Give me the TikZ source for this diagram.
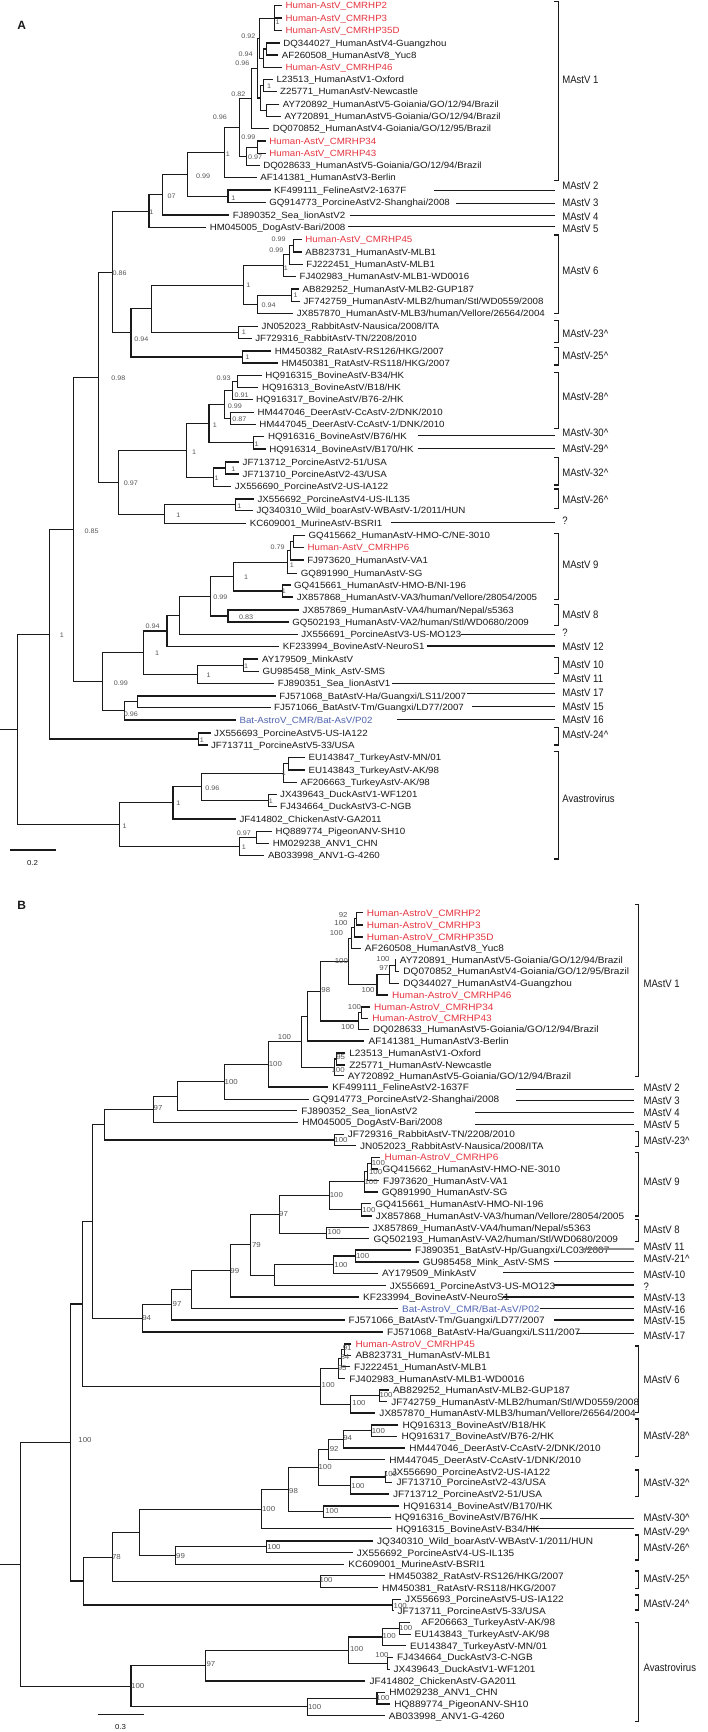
\documentclass[tikz,border=0pt]{standalone}
\usepackage{fontspec}
\setmainfont{Liberation Sans}
\newfontfamily\cladefont[FakeStretch=0.885]{Liberation Sans}
\newfontfamily\leaffont[FakeStretch=1.08]{Liberation Sans}
\newfontfamily\supfont[FakeStretch=1.09]{Liberation Sans}
\usetikzlibrary{calc}
\definecolor{hred}{HTML}{E63540}
\definecolor{bblue}{HTML}{4F63B0}
\definecolor{ink}{HTML}{1A1A1A}
\definecolor{sgray}{HTML}{555555}
\newcommand\LA[5]{\node[lfA,text=#4] (#1) at (#2,#3) {#5}; \coordinate (t#1) at ([xshift=-3.4pt]#1.west);}
\newcommand\LB[5]{\node[lfB,text=#4] (#1) at (#2,#3) {#5}; \coordinate (t#1) at ([xshift=-4pt]#1.west);}
\newcommand\BN[3]{\draw[tree] (#2) -- (#1 |- #2) -- (#1 |- #3) -- (#3);}
\begin{document}
\begin{tikzpicture}[x=1.3546pt,y=-1pt,
  lfA/.style={anchor=west,inner sep=0pt,text height=6.4pt,text depth=0pt,font=\leaffont\fontsize{9}{10}\selectfont},
  lfB/.style={anchor=west,inner sep=0pt,text height=6.6pt,text depth=0pt,font=\leaffont\fontsize{9.3}{10}\selectfont},
  supA/.style={inner sep=0pt,text=sgray,text height=4.7pt,text depth=0pt,font=\supfont\fontsize{6.6}{7}\selectfont},
  supB/.style={inner sep=0pt,text=sgray,text height=5.1pt,text depth=0pt,font=\supfont\fontsize{7.2}{8}\selectfont},
  cladelab/.style={anchor=west,inner sep=0pt,text=ink,text height=7.7pt,text depth=0pt,font=\cladefont\fontsize{10.8}{11}\selectfont},
  tree/.style={line width=1.05pt,draw=ink},
  brk/.style={line width=1.05pt,draw=ink},
  panel/.style={inner sep=0pt,text=ink,font=\fontsize{12}{12}\selectfont\bfseries}]
\useasboundingbox (0,0) rectangle (522.66,1732);
\fill[white] (0,0) rectangle (522.66,1732);

\node[panel] (labA) at (16,25) {A};
\node[panel] (labB) at (16,905) {B};

% ================= PANEL A leaves =================
\LA{a01}{210.7}{5.7}{hred}{Human-AstV\_CMRHP2}
\LA{a02}{210.7}{18}{hred}{Human-AstV\_CMRHP3}
\LA{a03}{210.7}{30.7}{hred}{Human-AstV\_CMRHP35D}
\LA{a04}{209}{43}{ink}{DQ344027\_HumanAstV4-Guangzhou}
\LA{a05}{208}{55}{ink}{AF260508\_HumanAstV8\_Yuc8}
\LA{a06}{210.7}{67.3}{hred}{Human-AstV\_CMRHP46}
\LA{a07}{204}{79.7}{ink}{L23513\_HumanAstV1-Oxford}
\LA{a08}{206.7}{91.7}{ink}{Z25771\_HumanAstV-Newcastle}
\LA{a09}{208.7}{104.3}{ink}{AY720892\_HumanAstV5-Goiania/GO/12/94/Brazil}
\LA{a10}{210}{116.3}{ink}{AY720891\_HumanAstV5-Goiania/GO/12/94/Brazil}
\LA{a11}{201.3}{128.7}{ink}{DQ070852\_HumanAstV4-Goiania/GO/12/95/Brazil}
\LA{a12}{198.7}{141}{hred}{Human-AstV\_CMRHP34}
\LA{a13}{198.7}{153.3}{hred}{Human-AstV\_CMRHP43}
\LA{a14}{194.3}{165.3}{ink}{DQ028633\_HumanAstV5-Goiania/GO/12/94/Brazil}
\LA{a15}{192}{177.3}{ink}{AF141381\_HumanAstV3-Berlin}
\LA{a16}{202.3}{190}{ink}{KF499111\_FelineAstV2-1637F}
\LA{a17}{198.7}{202.7}{ink}{GQ914773\_PorcineAstV2-Shanghai/2008}
\LA{a18}{171.7}{215}{ink}{FJ890352\_Sea\_lionAstV2}
\LA{a19}{154.7}{227.7}{ink}{HM045005\_DogAstV-Bari/2008}
\LA{a20}{225.3}{239.3}{hred}{Human-AstV\_CMRHP45}
\LA{a21}{225.3}{252}{ink}{AB823731\_HumanAstV-MLB1}
\LA{a22}{226}{264.3}{ink}{FJ222451\_HumanAstV-MLB1}
\LA{a23}{221}{276.3}{ink}{FJ402983\_HumanAstV-MLB1-WD0016}
\LA{a24}{223.3}{289}{ink}{AB829252\_HumanAstV-MLB2-GUP187}
\LA{a25}{224}{301.7}{ink}{JF742759\_HumanAstV-MLB2/human/Stl/WD0559/2008}
\LA{a26}{219}{313.7}{ink}{JX857870\_HumanAstV-MLB3/human/Vellore/26564/2004}
\LA{a27}{193}{326.3}{ink}{JN052023\_RabbitAstV-Nausica/2008/ITA}
\LA{a28}{188.3}{338.7}{ink}{JF729316\_RabbitAstV-TN/2208/2010}
\LA{a29}{202.7}{351}{ink}{HM450382\_RatAstV-RS126/HKG/2007}
\LA{a30}{207.7}{363}{ink}{HM450381\_RatAstV-RS118/HKG/2007}
\LA{a31}{195.7}{375.7}{ink}{HQ916315\_BovineAstV-B34/HK}
\LA{a32}{193.3}{387.7}{ink}{HQ916313\_BovineAstV/B18/HK}
\LA{a33}{189}{399.7}{ink}{HQ916317\_BovineAstV/B76-2/HK}
\LA{a34}{190}{412.3}{ink}{HM447046\_DeerAstV-CcAstV-2/DNK/2010}
\LA{a35}{191.3}{424.3}{ink}{HM447045\_DeerAstV-CcAstV-1/DNK/2010}
\LA{a36}{197.7}{436.7}{ink}{HQ916316\_BovineAstV/B76/HK}
\LA{a37}{198.7}{449}{ink}{HQ916314\_BovineAstV/B170/HK}
\LA{a38}{179}{462}{ink}{JF713712\_PorcineAstV2-51/USA}
\LA{a39}{179}{474}{ink}{JF713710\_PorcineAstV2-43/USA}
\LA{a40}{173.3}{486.3}{ink}{JX556690\_PorcineAstV2-US-IA122}
\LA{a41}{190}{499}{ink}{JX556692\_PorcineAstV4-US-IL135}
\LA{a42}{189.3}{510.7}{ink}{JQ340310\_Wild\_boarAstV-WBAstV-1/2011/HUN}
\LA{a43}{184.3}{523.3}{ink}{KC609001\_MurineAstV-BSRI1}
\LA{a44}{227.7}{535.7}{ink}{GQ415662\_HumanAstV-HMO-C/NE-3010}
\LA{a45}{227}{547.7}{hred}{Human-AstV\_CMRHP6}
\LA{a46}{226.7}{560}{ink}{FJ973620\_HumanAstV-VA1}
\LA{a47}{222}{573.3}{ink}{GQ891990\_HumanAstV-SG}
\LA{a48}{217}{585}{ink}{GQ415661\_HumanAstV-HMO-B/NI-196}
\LA{a49}{219}{597}{ink}{JX857868\_HumanAstV-VA3/human/Vellore/28054/2005}
\LA{a50}{223.3}{610}{ink}{JX857869\_HumanAstV-VA4/human/Nepal/s5363}
\LA{a51}{215.7}{622}{ink}{GQ502193\_HumanAstV-VA2/human/Stl/WD0680/2009}
\LA{a52}{222.3}{634.3}{ink}{JX556691\_PorcineAstV3-US-MO123}
\LA{a53}{208.7}{646.7}{ink}{KF233994\_BovineAstV-NeuroS1}
\LA{a54}{193.3}{659}{ink}{AY179509\_MinkAstV}
\LA{a55}{193.7}{671.3}{ink}{GU985458\_Mink\_AstV-SMS}
\LA{a56}{205}{683.3}{ink}{FJ890351\_Sea\_lionAstV1}
\LA{a57}{206}{696}{ink}{FJ571068\_BatAstV-Ha/Guangxi/LS11/2007}
\LA{a58}{202.3}{707.3}{ink}{FJ571066\_BatAstV-Tm/Guangxi/LD77/2007}
\LA{a59}{176.7}{720}{bblue}{Bat-AstroV\_CMR/Bat-AsV/P02}
\LA{a60}{158}{733}{ink}{JX556693\_PorcineAstV5-US-IA122}
\LA{a61}{155.7}{745}{ink}{JF713711\_PorcineAstV5-33/USA}
\LA{a62}{227.7}{757.7}{ink}{EU143847\_TurkeyAstV-MN/01}
\LA{a63}{227.7}{770}{ink}{EU143843\_TurkeyAstV-AK/98}
\LA{a64}{221.7}{782.3}{ink}{AF206663\_TurkeyAstV-AK/98}
\LA{a65}{206.7}{794.7}{ink}{JX439643\_DuckAstV1-WF1201}
\LA{a66}{206.7}{806.7}{ink}{FJ434664\_DuckAstV3-C-NGB}
\LA{a67}{176.7}{819}{ink}{JF414802\_ChickenAstV-GA2011}
\LA{a68}{203.3}{831.7}{ink}{HQ889774\_PigeonANV-SH10}
\LA{a69}{201.3}{843.3}{ink}{HM029238\_ANV1\_CHN}
\LA{a70}{197.7}{855.7}{ink}{AB033998\_ANV1-G-4260}

% ================= PANEL A internal nodes =================
\coordinate (aiP1) at (202.7,18.2);
\coordinate (aiPdq) at (197,49);
\coordinate (aiP3) at (194.3,58.15);
\coordinate (aiP2) at (191.7,38.2);
\coordinate (aiLZ) at (194.3,85.7);
\coordinate (aiAY) at (196.7,110.3);
\coordinate (aiP5) at (192.3,98);
\coordinate (aiP4) at (190.3,68.1);
\coordinate (aiQ) at (185.7,98.4);
\coordinate (aiS1) at (190,147.15);
\coordinate (aiS) at (181.7,156.2);
\coordinate (aiR) at (176.7,127.3);
\coordinate (aiT) at (165.7,152.3);
\coordinate (aiFP) at (168.3,196.35);
\coordinate (aiU) at (138.3,174.3);
\coordinate (aiV) at (120,194.65);
\coordinate (aiW) at (110,211.2);
\coordinate (aiM1a) at (216.7,245.65);
\coordinate (aiM1b) at (214,254.97);
\coordinate (aiM1) at (209.3,265.6);
\coordinate (aiM2p) at (215,295.35);
\coordinate (aiM2) at (190,304.5);
\coordinate (aiMLB) at (180,285.05);
\coordinate (aiRAB) at (176,332.5);
\coordinate (aiZ) at (111.7,308.8);
\coordinate (aiRAT) at (179,357);
\coordinate (aiY) at (96.7,332.9);
\coordinate (aiX) at (82.7,272.05);
\coordinate (aiBOVa) at (175,381.7);
\coordinate (aiBOVb) at (171.7,390.7);
\coordinate (aiDEER) at (170,418.3);
\coordinate (aiFF) at (165.7,404.5);
\coordinate (aiGG) at (187.3,442.85);
\coordinate (aiEE) at (154.3,423.7);
\coordinate (aiPOa) at (166.7,468);
\coordinate (aiPO) at (157.3,477.15);
\coordinate (aiCC) at (137.7,450.4);
\coordinate (aiBOAR) at (174,504.85);
\coordinate (aiDD) at (121.7,514.1);
\coordinate (aiBB) at (87.3,482.25);
\coordinate (aiAA) at (72.7,377.15);
\coordinate (aiRR1) at (216.7,541.7);
\coordinate (aiRR2) at (214.3,550.85);
\coordinate (aiRR) at (212.3,562.1);
\coordinate (aiSS) at (208.3,591);
\coordinate (aiPP) at (172.3,576.55);
\coordinate (aiQQ) at (168.3,616);
\coordinate (aiOO) at (155.7,596.3);
\coordinate (aiNN) at (132.7,615.3);
\coordinate (aiLL) at (123.3,631);
\coordinate (aiMINK) at (180,665.15);
\coordinate (aiMM) at (145.7,674.2);
\coordinate (aiJJ) at (106,652.6);
\coordinate (aiBAT) at (101.7,701.65);
\coordinate (aiKK) at (91.7,710.8);
\coordinate (aiII) at (76,681.7);
\coordinate (aiHH) at (54,529.4);
\coordinate (aiPO5) at (146.7,739);
\coordinate (aiMAM) at (36.7,634.2);
\coordinate (aiTUa) at (213.3,763.85);
\coordinate (aiTU) at (209.3,773.1);
\coordinate (aiDU) at (198.3,800.7);
\coordinate (aiAV2) at (149,786.9);
\coordinate (aiAV1) at (127.7,802.95);
\coordinate (aiANa) at (189.3,837.5);
\coordinate (aiAN) at (176.7,846.6);
\coordinate (aiAV) at (88,824.8);
\coordinate (aiROOT) at (12.7,729.5);
\coordinate (aiStem) at (0,729.5);

\draw[tree] (ta01) -- (aiP1 |- ta01) -- (aiP1 |- ta03) -- (ta03);
\draw[tree] (aiP1 |- ta02) -- (ta02);
\BN{aiPdq}{ta04}{ta05}
\BN{aiP3}{aiPdq}{ta06}
\BN{aiP2}{aiP1}{aiP3}
\BN{aiLZ}{ta07}{ta08}
\BN{aiAY}{ta09}{ta10}
\BN{aiP5}{aiLZ}{aiAY}
\BN{aiP4}{aiP2}{aiP5}
\BN{aiQ}{aiP4}{ta11}
\BN{aiS1}{ta12}{ta13}
\BN{aiS}{aiS1}{ta14}
\BN{aiR}{aiQ}{aiS}
\BN{aiT}{aiR}{ta15}
\BN{aiFP}{ta16}{ta17}
\BN{aiU}{aiT}{aiFP}
\BN{aiV}{aiU}{ta18}
\BN{aiW}{aiV}{ta19}
\BN{aiM1a}{ta20}{ta21}
\BN{aiM1b}{aiM1a}{ta22}
\BN{aiM1}{aiM1b}{ta23}
\BN{aiM2p}{ta24}{ta25}
\BN{aiM2}{aiM2p}{ta26}
\BN{aiMLB}{aiM1}{aiM2}
\BN{aiRAB}{ta27}{ta28}
\BN{aiZ}{aiMLB}{aiRAB}
\BN{aiRAT}{ta29}{ta30}
\BN{aiY}{aiZ}{aiRAT}
\BN{aiX}{aiW}{aiY}
\BN{aiBOVa}{ta31}{ta32}
\BN{aiBOVb}{aiBOVa}{ta33}
\BN{aiDEER}{ta34}{ta35}
\BN{aiFF}{aiBOVb}{aiDEER}
\BN{aiGG}{ta36}{ta37}
\BN{aiEE}{aiFF}{aiGG}
\BN{aiPOa}{ta38}{ta39}
\BN{aiPO}{aiPOa}{ta40}
\BN{aiCC}{aiEE}{aiPO}
\BN{aiBOAR}{ta41}{ta42}
\BN{aiDD}{aiBOAR}{ta43}
\BN{aiBB}{aiCC}{aiDD}
\BN{aiAA}{aiX}{aiBB}
\BN{aiRR1}{ta44}{ta45}
\BN{aiRR2}{aiRR1}{ta46}
\BN{aiRR}{aiRR2}{ta47}
\BN{aiSS}{ta48}{ta49}
\BN{aiPP}{aiRR}{aiSS}
\BN{aiQQ}{ta50}{ta51}
\BN{aiOO}{aiPP}{aiQQ}
\BN{aiNN}{aiOO}{ta52}
\BN{aiLL}{aiNN}{ta53}
\BN{aiMINK}{ta54}{ta55}
\BN{aiMM}{aiMINK}{ta56}
\BN{aiJJ}{aiLL}{aiMM}
\BN{aiBAT}{ta57}{ta58}
\BN{aiKK}{aiBAT}{ta59}
\BN{aiII}{aiJJ}{aiKK}
\BN{aiHH}{aiAA}{aiII}
\BN{aiPO5}{ta60}{ta61}
\BN{aiMAM}{aiHH}{aiPO5}
\BN{aiTUa}{ta62}{ta63}
\BN{aiTU}{aiTUa}{ta64}
\BN{aiDU}{ta65}{ta66}
\BN{aiAV2}{aiTU}{aiDU}
\BN{aiAV1}{aiAV2}{ta67}
\BN{aiANa}{ta68}{ta69}
\BN{aiAN}{aiANa}{ta70}
\BN{aiAV}{aiAV1}{aiAN}
\BN{aiROOT}{aiMAM}{aiAV}
\draw[tree] (aiStem) -- (aiROOT);

% support values A
\foreach \x/\y/\lbl [count=\i] in {205/21.7/1, 183.3/36/0.92, 181.3/54.3/0.94, 179/63.3/0.96, 198.6/86/1, 176/94/0.82, 162.3/117.3/0.96, 183.3/137.3/0.99, 168.3/154/1, 188.3/157.3/0.97, 150/176/0.99, 126.7/195.7/07, 172.3/197.7/1, 111.7/211.7/1, 205.7/239.3/0.99, 204/250/0.99, 211/267.7/1, 88.3/273.3/0.86, 183.3/285/1, 218.3/295/1, 198.3/305/0.94, 180/332.3/1, 104.3/338.7/0.94, 182.7/357.3/1, 87.3/378.3/0.98, 165/377.7/0.93, 178.3/395/0.91, 173.3/405.7/0.99, 176.7/419.3/0.87, 158.7/425.5/1, 189.5/444/1, 143.3/451.7/1, 172.3/469/1, 160/477.7/1, 96.7/483.3/0.97, 176.7/506/1, 131.7/515/1, 67.7/531/0.85, 205/546.7/0.79, 215.5/565/1, 181.7/577.3/1, 209.5/590.7/1, 162.7/596.7/0.99, 181.7/616.7/0.83, 112.7/626/0.94, 45.7/635.3/1, 116/653.3/1, 181.7/666/1, 154/675/1, 89.3/682.7/0.99, 96.7/714.3/0.96, 149/740/1, 209.6/772.7/1, 156.7/787.7/0.96, 200/801/1, 131.7/803.3/1, 92/826/1, 180/832.7/0.97, 180/847.3/1}
  \node[supA] (sa\i) at (\x,\y) {\lbl};

% clade brackets A
\foreach \a/\b in {1.5/180.7, 235/313.3, 320.7/342.7, 347.3/365, 372.3/428.3, 457.7/485, 489/508.3, 533.3/599.3, 604.3/625.7, 657.3/673.3, 727.7/745, 751.7/859}
  \draw[brk] (409.3,\a) -- (412.3,\a) -- (412.3,\b) -- (409.3,\b);
\foreach \x/\y in {320.7/190.7, 336.7/203.3, 258.3/215.7, 256.7/226.3, 308.3/435.7, 308.3/448.3, 288.3/522.3, 340/634.3, 315/646, 289.3/683.3, 345/693.3, 348.3/706.7, 293.3/719.3}
  \draw[brk] (\x,\y) -- (410,\y);
\foreach \y/\lbl [count=\i] in {80/MAstV 1, 185.7/MAstV 2, 202.7/MAstV 3, 216.7/MAstV 4, 228.3/MAstV 5, 271/MAstV 6, 333.3/MAstV-23\textasciicircum, 356/MAstV-25\textasciicircum, 396.7/MAstV-28\textasciicircum, 432.7/MAstV-30\textasciicircum, 448.3/MAstV-29\textasciicircum, 472.3/MAstV-32\textasciicircum, 500/MAstV-26\textasciicircum, 521/?, 565/MAstV 9, 614.3/MAstV 8, 632.7/?, 646.7/MAstV 12, 664.3/MAstV 10, 678.3/MAstV 11, 692.7/MAstV 17, 706.7/MAstV 15, 720/MAstV 16, 735/MAstV-24\textasciicircum, 798.3/Avastrovirus}
  \node[cladelab] (ca\i) at (415,\y) {\lbl};

% scale bar A
\coordinate (sbA1) at (7.3,850); \coordinate (sbA2) at (41,850);
\draw[tree] (sbA1) -- (sbA2);
\node[supB,text=ink] (sbAl) at (24,862.7) {0.2};

% ================= PANEL B leaves =================
\LB{b01}{270.7}{912.7}{hred}{Human-AstroV\_CMRHP2}
\LB{b02}{270.7}{925}{hred}{Human-AstroV\_CMRHP3}
\LB{b03}{270.7}{937}{hred}{Human-AstroV\_CMRHP35D}
\LB{b04}{269.3}{948.3}{ink}{AF260508\_HumanAstV8\_Yuc8}
\LB{b05}{295}{960}{ink}{AY720891\_HumanAstV5-Goiania/GO/12/94/Brazil}
\LB{b06}{297.7}{971.3}{ink}{DQ070852\_HumanAstV4-Goiania/GO/12/95/Brazil}
\LB{b07}{297.7}{983.3}{ink}{DQ344027\_HumanAstV4-Guangzhou}
\LB{b08}{289.3}{995}{hred}{Human-AstroV\_CMRHP46}
\LB{b09}{276}{1007}{hred}{Human-AstroV\_CMRHP34}
\LB{b10}{274.7}{1018.3}{hred}{Human-AstroV\_CMRHP43}
\LB{b11}{275.3}{1029.3}{ink}{DQ028633\_HumanAstV5-Goiania/GO/12/94/Brazil}
\LB{b12}{272}{1041}{ink}{AF141381\_HumanAstV3-Berlin}
\LB{b13}{257.7}{1053}{ink}{L23513\_HumanAstV1-Oxford}
\LB{b14}{257.7}{1065}{ink}{Z25771\_HumanAstV-Newcastle}
\LB{b15}{256.7}{1075.7}{ink}{AY720892\_HumanAstV5-Goiania/GO/12/94/Brazil}
\LB{b16}{245.3}{1087}{ink}{KF499111\_FelineAstV2-1637F}
\LB{b17}{230.7}{1099.3}{ink}{GQ914773\_PorcineAstV2-Shanghai/2008}
\LB{b18}{222.3}{1110.7}{ink}{FJ890352\_Sea\_lionAstV2}
\LB{b19}{223}{1122.3}{ink}{HM045005\_DogAstV-Bari/2008}
\LB{b20}{256.7}{1134.3}{ink}{JF729316\_RabbitAstV-TN/2208/2010}
\LB{b21}{265.7}{1145.7}{ink}{JN052023\_RabbitAstV-Nausica/2008/ITA}
\LB{b22}{283.7}{1157.3}{hred}{Human-AstroV\_CMRHP6}
\LB{b23}{282.3}{1169}{ink}{GQ415662\_HumanAstV-HMO-NE-3010}
\LB{b24}{282.7}{1180.7}{ink}{FJ973620\_HumanAstV-VA1}
\LB{b25}{281.7}{1192}{ink}{GQ891990\_HumanAstV-SG}
\LB{b26}{277}{1203.7}{ink}{GQ415661\_HumanAstV-HMO-NI-196}
\LB{b27}{277.3}{1216}{ink}{JX857868\_HumanAstV-VA3/human/Vellore/28054/2005}
\LB{b28}{275}{1227.7}{ink}{JX857869\_HumanAstV-VA4/human/Nepal/s5363}
\LB{b29}{275.7}{1238.7}{ink}{GQ502193\_HumanAstV-VA2/human/Stl/WD0680/2009}
\LB{b30}{306.3}{1250}{ink}{FJ890351\_BatAstV-Hp/Guangxi/LC03/2007}
\LB{b31}{312}{1262}{ink}{GU985458\_Mink\_AstV-SMS}
\LB{b32}{282}{1273.3}{ink}{AY179509\_MinkAstV}
\LB{b33}{287.7}{1285.7}{ink}{JX556691\_PorcineAstV3-US-MO123}
\LB{b34}{268}{1297}{ink}{KF233994\_BovineAstV-NeuroS1}
\LB{b35}{296.7}{1308.7}{bblue}{Bat-AstroV\_CMR/Bat-AsV/P02}
\LB{b36}{257.3}{1320}{ink}{FJ571066\_BatAstV-Tm/Guangxi/LD77/2007}
\LB{b37}{285.7}{1332}{ink}{FJ571068\_BatAstV-Ha/Guangxi/LS11/2007}
\LB{b38}{262.3}{1344}{hred}{Human-AstroV\_CMRHP45}
\LB{b39}{262.3}{1355.3}{ink}{AB823731\_HumanAstV-MLB1}
\LB{b40}{261.3}{1366.7}{ink}{FJ222451\_HumanAstV-MLB1}
\LB{b41}{257.7}{1378.7}{ink}{FJ402983\_HumanAstV-MLB1-WD0016}
\LB{b42}{290}{1390}{ink}{AB829252\_HumanAstV-MLB2-GUP187}
\LB{b43}{288.7}{1401.7}{ink}{JF742759\_HumanAstV-MLB2/human/Stl/WD0559/2008}
\LB{b44}{280}{1413}{ink}{JX857870\_HumanAstV-MLB3/human/Vellore/26564/2004}
\LB{b45}{297}{1425}{ink}{HQ916313\_BovineAstV/B18/HK}
\LB{b46}{296.3}{1436.3}{ink}{HQ916317\_BovineAstV/B76-2/HK}
\LB{b47}{302}{1448}{ink}{HM447046\_DeerAstV-CcAstV-2/DNK/2010}
\LB{b48}{287.3}{1459.7}{ink}{HM447045\_DeerAstV-CcAstV-1/DNK/2010}
\LB{b49}{289}{1471.7}{ink}{JX556690\_PorcineAstV2-US-IA122}
\LB{b50}{292.7}{1482.3}{ink}{JF713710\_PorcineAstV2-43/USA}
\LB{b51}{290}{1494}{ink}{JF713712\_PorcineAstV2-51/USA}
\LB{b52}{297.7}{1506}{ink}{HQ916314\_BovineAstV/B170/HK}
\LB{b53}{291.3}{1517.3}{ink}{HQ916316\_BovineAstV/B76/HK}
\LB{b54}{292.3}{1528.7}{ink}{HQ916315\_BovineAstV-B34/HK}
\LB{b55}{278.3}{1541}{ink}{JQ340310\_Wild\_boarAstV-WBAstV-1/2011/HUN}
\LB{b56}{263.3}{1552.7}{ink}{JX556692\_PorcineAstV4-US-IL135}
\LB{b57}{257}{1564.3}{ink}{KC609001\_MurineAstV-BSRI1}
\LB{b58}{287}{1575.7}{ink}{HM450382\_RatAstV-RS126/HKG/2007}
\LB{b59}{282}{1587.7}{ink}{HM450381\_RatAstV-RS118/HKG/2007}
\LB{b60}{299}{1599.3}{ink}{JX556693\_PorcineAstV5-US-IA122}
\LB{b61}{293.3}{1610.7}{ink}{JF713711\_PorcineAstV5-33/USA}
\LB{b62}{311}{1622.3}{ink}{AF206663\_TurkeyAstV-AK/98}
\LB{b63}{306}{1634.3}{ink}{EU143843\_TurkeyAstV-AK/98}
\LB{b64}{302.7}{1645.7}{ink}{EU143847\_TurkeyAstV-MN/01}
\LB{b65}{293}{1657.3}{ink}{FJ434664\_DuckAstV3-C-NGB}
\LB{b66}{290.5}{1669.3}{ink}{JX439643\_DuckAstV1-WF1201}
\LB{b67}{272.7}{1681}{ink}{JF414802\_ChickenAstV-GA2011}
\LB{b68}{287.3}{1692.3}{ink}{HM029238\_ANV1\_CHN}
\LB{b69}{291}{1704}{ink}{HQ889774\_PigeonANV-SH10}
\LB{b70}{287}{1715.7}{ink}{AB033998\_ANV1-G-4260}
\coordinate (tb62) at (303,1622.3);

% ================= PANEL B internal nodes =================
\coordinate (biB1) at (263.3,918.85);
\coordinate (biB2) at (261.7,927.9);
\coordinate (biB3) at (259.3,938.1);
\coordinate (biC1) at (291.7,965.65);
\coordinate (biC2) at (287.3,974.5);
\coordinate (biC3) at (278.3,984.75);
\coordinate (biC6) at (257.5,961.4);
\coordinate (biC4) at (266.7,1012.65);
\coordinate (biC5) at (265,1021);
\coordinate (biC7) at (236.7,991.2);
\coordinate (biC8) at (227.3,1016.1);
\coordinate (biLZ) at (248.3,1059);
\coordinate (biLZA) at (246.7,1067.35);
\coordinate (biC9) at (222.7,1041.7);
\coordinate (biC10) at (198.3,1064.35);
\coordinate (biC11) at (165.7,1081.8);
\coordinate (biC12) at (130.7,1096.25);
\coordinate (biC13) at (113.3,1109.3);
\coordinate (biRAB) at (246.7,1140);
\coordinate (biC14) at (77.3,1124.65);
\coordinate (biE5) at (274,1163.15);
\coordinate (biE4) at (271,1171.9);
\coordinate (biE2) at (269.3,1181.95);
\coordinate (biE3) at (266.7,1209.85);
\coordinate (biE1) at (243.3,1195.9);
\coordinate (biVA) at (241,1233.2);
\coordinate (biD7) at (206,1214.55);
\coordinate (biD10) at (262.3,1256);
\coordinate (biD9) at (246,1264.65);
\coordinate (biD8) at (202.7,1275.2);
\coordinate (biD6) at (185,1244.9);
\coordinate (biD5) at (170,1270.95);
\coordinate (biD4) at (141.7,1289.8);
\coordinate (biD3) at (126.7,1304.9);
\coordinate (biD2) at (105,1318.45);
\coordinate (biD1) at (68.3,1221.55);
\coordinate (biG1a) at (254,1349.65);
\coordinate (biG1b) at (252.3,1358.2);
\coordinate (biG1) at (250,1368.45);
\coordinate (biG2p) at (280,1395.85);
\coordinate (biG2) at (259,1404.4);
\coordinate (biMLB) at (236.7,1386.4);
\coordinate (biF1) at (61,1304);
\coordinate (biH11p) at (274,1430.65);
\coordinate (biH11) at (253.3,1439.3);
\coordinate (biH9) at (242.7,1449.5);
\coordinate (biH10p) at (284.3,1477);
\coordinate (biH10) at (259,1485.5);
\coordinate (biH7) at (235,1467.5);
\coordinate (biH8) at (239,1511.65);
\coordinate (biH6) at (212.7,1489.6);
\coordinate (biH4) at (193.3,1509.15);
\coordinate (biBOAR) at (196.7,1546.85);
\coordinate (biH5) at (129.3,1555.6);
\coordinate (biH3) at (103.3,1532.4);
\coordinate (biRAT) at (236.7,1581.7);
\coordinate (biH2) at (82.7,1557.05);
\coordinate (biP5) at (290,1605);
\coordinate (biH1) at (61.7,1581);
\coordinate (biF2) at (51.7,1442.5);
\coordinate (biI4) at (295,1628.3);
\coordinate (biI3) at (282.7,1637);
\coordinate (biDU) at (286,1663.3);
\coordinate (biI2) at (257.3,1650.15);
\coordinate (biI1) at (151.7,1665.6);
\coordinate (biJ1p) at (278.3,1698.15);
\coordinate (biJ1) at (226.7,1706.9);
\coordinate (biAV) at (96.7,1686.25);
\coordinate (biROOT) at (15,1564.4);
\coordinate (biStem) at (0,1564.4);

\BN{biB1}{tb01}{tb02}
\BN{biB2}{biB1}{tb03}
\BN{biB3}{biB2}{tb04}
\BN{biC1}{tb05}{tb06}
\BN{biC2}{biC1}{tb07}
\BN{biC3}{biC2}{tb08}
\BN{biC6}{biB3}{biC3}
\BN{biC4}{tb09}{tb10}
\BN{biC5}{biC4}{tb11}
\BN{biC7}{biC6}{biC5}
\BN{biC8}{biC7}{tb12}
\BN{biLZ}{tb13}{tb14}
\BN{biLZA}{biLZ}{tb15}
\BN{biC9}{biC8}{biLZA}
\BN{biC10}{biC9}{tb16}
\BN{biC11}{biC10}{tb17}
\BN{biC12}{biC11}{tb18}
\BN{biC13}{biC12}{tb19}
\BN{biRAB}{tb20}{tb21}
\BN{biC14}{biC13}{biRAB}
\BN{biE5}{tb22}{tb23}
\BN{biE4}{biE5}{tb24}
\BN{biE2}{biE4}{tb25}
\BN{biE3}{tb26}{tb27}
\BN{biE1}{biE2}{biE3}
\BN{biVA}{tb28}{tb29}
\BN{biD7}{biE1}{biVA}
\BN{biD10}{tb30}{tb31}
\BN{biD9}{biD10}{tb32}
\BN{biD8}{biD9}{tb33}
\BN{biD6}{biD7}{biD8}
\BN{biD5}{biD6}{tb34}
\BN{biD4}{biD5}{tb35}
\BN{biD3}{biD4}{tb36}
\BN{biD2}{biD3}{tb37}
\BN{biD1}{biC14}{biD2}
\BN{biG1a}{tb38}{tb39}
\BN{biG1b}{biG1a}{tb40}
\BN{biG1}{biG1b}{tb41}
\BN{biG2p}{tb42}{tb43}
\BN{biG2}{biG2p}{tb44}
\BN{biMLB}{biG1}{biG2}
\BN{biF1}{biD1}{biMLB}
\BN{biH11p}{tb45}{tb46}
\BN{biH11}{biH11p}{tb47}
\BN{biH9}{biH11}{tb48}
\BN{biH10p}{tb49}{tb50}
\BN{biH10}{biH10p}{tb51}
\BN{biH7}{biH9}{biH10}
\BN{biH8}{tb52}{tb53}
\BN{biH6}{biH7}{biH8}
\BN{biH4}{biH6}{tb54}
\BN{biBOAR}{tb55}{tb56}
\BN{biH5}{biBOAR}{tb57}
\BN{biH3}{biH4}{biH5}
\BN{biRAT}{tb58}{tb59}
\BN{biH2}{biH3}{biRAT}
\BN{biP5}{tb60}{tb61}
\BN{biH1}{biH2}{biP5}
\BN{biF2}{biF1}{biH1}
\BN{biI4}{tb62}{tb63}
\BN{biI3}{biI4}{tb64}
\BN{biDU}{tb65}{tb66}
\BN{biI2}{biI3}{biDU}
\BN{biI1}{biI2}{tb67}
\BN{biJ1p}{tb68}{tb69}
\BN{biJ1}{biJ1p}{tb70}
\BN{biAV}{biI1}{biJ1}
\BN{biROOT}{biF2}{biAV}
\draw[tree] (biStem) -- (biROOT);

% support values B
\foreach \x/\y/\lbl [count=\i] in {253.3/915/92, 251.7/923.3/100, 248.3/932.7/100, 252/961/100, 282.7/958.7/100, 283.3/968.3/97, 271.7/990/100, 240.5/989.5/98, 261.7/1006.7/100, 256.7/1026.7/100, 210/1036.7/100, 251.5/1056.7/95, 249.6/1070/100, 203.3/1064.3/100, 170.7/1081.7/100, 116.7/1108.3/97, 251.7/1140/100, 279.3/1163.3/100, 277.3/1171.7/100, 274/1181.7/100, 248.3/1195/100, 272.3/1210/100, 209.3/1214/97, 246.7/1232.3/100, 189.3/1245/79, 267.7/1256/100, 251.7/1265/100, 173.3/1270.7/99, 130.7/1304.3/97, 108.3/1318.3/94, 256.3/1348.3/91, 254.6/1356.7/84, 252.6/1367.7/95, 242.3/1385/100, 285/1395/100, 265/1403.3/100, 62.7/1440/100, 279.3/1430.7/100, 256.7/1438.3/94, 246.7/1449.3/92, 240/1466.7/100, 288.3/1474.3/100, 216.7/1491/98, 264.3/1485.7/100, 198.3/1509.3/100, 245/1511/100, 202.3/1546.7/100, 133.3/1556/99, 86/1556.7/78, 240.7/1580/100, 295.5/1605.5/100, 299.5/1627.7/100, 287.3/1636/100, 263.3/1649.3/100, 282/1655/100, 155.7/1664.3/97, 101.7/1686/100, 282.7/1697.7/100, 232.3/1706.7/100}
  \node[supB] (sb\i) at (\x,\y) {\lbl};

% clade brackets B
\foreach \a/\b in {904.3/1076.7, 1131.7/1146.7, 1152.3/1216, 1219.3/1241.7, 1346/1412.3, 1419/1456.7, 1470/1496.7, 1535/1560, 1571/1588.3, 1595/1610, 1622.7/1721.7}
  \draw[brk] (468.7,\a) -- (471.7,\a) -- (471.7,\b) -- (468.7,\b);
\foreach \x/\y in {381/1089.7, 381/1100.7, 351/1112.3, 351/1124.7, 409.3/1261.3, 371/1272.3, 409.3/1285, 371/1297, 398.3/1308.7, 409.3/1320, 426/1333.7, 398.3/1518.3, 390/1528.3}
  \draw[brk] (\x,\y) -- (468.3,\y);
\coordinate (gl1) at (430,1249); \coordinate (gl2) at (468.3,1249);
\draw[brk,draw=black!45] (gl1) -- (gl2);
\foreach \y/\lbl [count=\i] in {984/MAstV 1, 1087.7/MAstV 2, 1101/MAstV 3, 1112.7/MAstV 4, 1125/MAstV 5, 1141/MAstV-23\textasciicircum, 1181.7/MAstV 9, 1230/MAstV 8, 1246.7/MAstV 11, 1258.3/MAstV-21\textasciicircum, 1275/MAstV-10, 1286.7/?, 1297.7/MAstV-13, 1309.3/MAstV-16, 1320.7/MAstV-15, 1336/MAstV-17, 1380/MAstV 6, 1436/MAstV-28\textasciicircum, 1482.7/MAstV-32\textasciicircum, 1517.7/MAstV-30\textasciicircum, 1531.7/MAstV-29\textasciicircum, 1547.7/MAstV-26\textasciicircum, 1579/MAstV-25\textasciicircum, 1603.3/MAstV-24\textasciicircum, 1667.3/Avastrovirus}
  \node[cladelab] (cb\i) at (475,\y) {\lbl};

% scale bar B
\coordinate (sbB1) at (72.7,1714.3); \coordinate (sbB2) at (106,1714.3);
\draw[tree] (sbB1) -- (sbB2);
\node[supB,text=ink] (sbBl) at (89,1727.3) {0.3};
\end{tikzpicture}
\end{document}
